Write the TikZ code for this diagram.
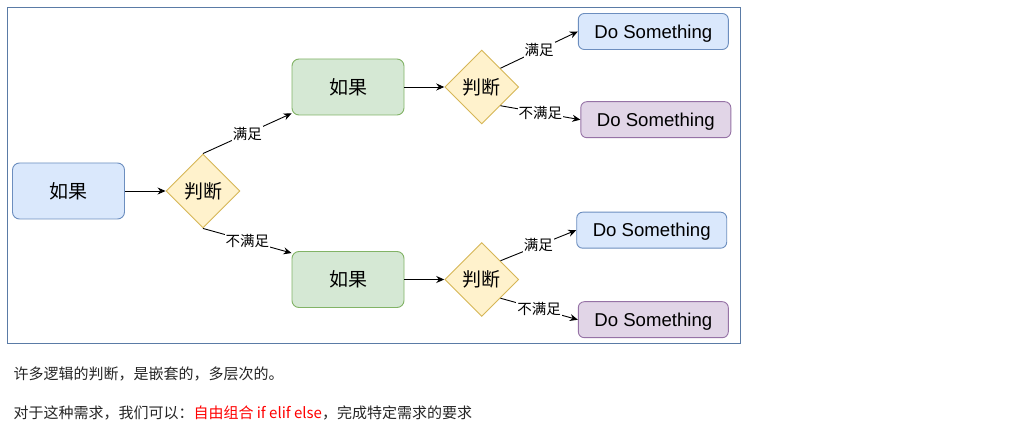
\documentclass[tikz,border=0pt]{standalone}
\usepackage{fontspec}
\setmainfont{Liberation Sans}
\newfontfamily\cjk{Noto Sans CJK SC}
\usetikzlibrary{shapes.geometric,arrows.meta}
\definecolor{bluefill}{HTML}{DAE8FC}
\definecolor{blueline}{HTML}{6C8EBF}
\definecolor{greenfill}{HTML}{D5E8D4}
\definecolor{greenline}{HTML}{82B366}
\definecolor{yellowfill}{HTML}{FFF2CC}
\definecolor{yellowline}{HTML}{D6B656}
\definecolor{purplefill}{HTML}{E1D5E7}
\definecolor{purpleline}{HTML}{9673A6}
\definecolor{framecol}{HTML}{5A7BA6}
\begin{document}
\begin{tikzpicture}[x=1pt,y=-1pt,
    box/.style={draw, rounded corners=7pt, line width=0.9pt, minimum width=112pt, minimum height=56pt, font=\cjk\fontsize{19}{20}\selectfont},
    dobox/.style={draw, rounded corners=6pt, line width=0.9pt, minimum width=150pt, minimum height=36pt, text height=13.5pt, text depth=0pt, font=\fontsize{18.6}{20}\selectfont},
    judge/.style={diamond, aspect=1, draw=yellowline, fill=yellowfill, line width=0.9pt, minimum width=74pt, minimum height=74pt, inner sep=0pt, font=\cjk\fontsize{19}{20}\selectfont},
    arr/.style={-{Stealth[length=8pt,width=7pt]}, line width=0.9pt},
    lbl/.style={fill=white, inner sep=1pt, font=\cjk\fontsize{14.5}{16}\selectfont}]
\useasboundingbox[fill=white] (0,0) rectangle (1034,435);
\draw[framecol, line width=0.9pt] (7.3,7.3) rectangle (740.7,343);
    % first level
    \node[box, draw=blueline, fill=bluefill] (start) at (68.5,191) {如果};
    \node[judge] (d1) at (203,191) {判断};
    \node[box, draw=greenline, fill=greenfill] (g1) at (348,87) {如果};
    \node[box, draw=greenline, fill=greenfill] (g2) at (348,279.5) {如果};
    % second level
    \node[judge] (d2) at (481.7,87) {判断};
    \node[judge] (d3) at (481.7,279.5) {判断};
    \node[dobox, draw=blueline, fill=bluefill] (do1) at (653.3,31.5) {Do Something};
    \node[dobox, draw=purpleline, fill=purplefill] (do2) at (655.8,119.7) {Do Something};
    \node[dobox, draw=blueline, fill=bluefill] (do3) at (651.7,230.2) {Do Something};
    \node[dobox, draw=purpleline, fill=purplefill] (do4) at (653.3,319.7) {Do Something};
    \draw[arr] (start) -- (d1);
    \draw[arr] (d1.north) -- node[lbl] {满足} ([yshift=2pt]g1.south west);
    \draw[arr] (d1.south) -- node[lbl] {不满足} ([yshift=-2pt]g2.north west);
    \draw[arr] (g1) -- (d2);
    \draw[arr] (g2) -- (d3);
    \draw[arr] (d2.north east) -- node[lbl] {满足} (do1.west);
    \draw[arr] (d2.south east) -- node[lbl] {不满足} (do2.west);
    \draw[arr] (d3.north east) -- node[lbl] {满足} (do3.west);
    \draw[arr] (d3.south east) -- node[lbl] {不满足} (do4.west);
    % text below
    \node[anchor=west, inner sep=0pt, text=black!85, font=\cjk\fontsize{15}{16}\selectfont] (line1) at (13.3,374.3) {许多逻辑的判断，是嵌套的，多层次的。};
    \node[anchor=west, inner sep=0pt, text=black!85, font=\cjk\fontsize{15}{16}\selectfont] (line2) at (13.3,413.3) {对于这种需求，我们可以：\textcolor{red}{自由组合 if elif else}，完成特定需求的要求};
\end{tikzpicture}
\end{document}
